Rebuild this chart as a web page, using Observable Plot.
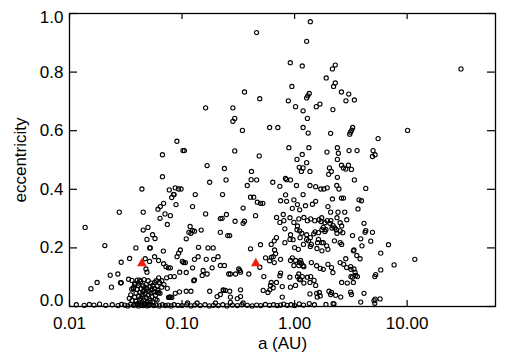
<!DOCTYPE html>
<html><head><meta charset="utf-8">
<script src="https://cdn.jsdelivr.net/npm/d3@7"></script>
<script src="https://cdn.jsdelivr.net/npm/@observablehq/plot@0.6"></script>
<style>
html,body{margin:0;padding:0;background:#fff;}
#chart svg{display:block;}
</style></head><body><div id="chart"></div>
<script>
// [semi-major axis (AU), eccentricity]
const sparseHigh = [[30.1,0.811],[10.1,0.601],[1.38,0.972],[1.28,0.905],[0.916,0.832],[1.17,0.821],[2.30,0.824],[2.17,0.811],[0.49,0.709],[1.91,0.780],[2.30,0.763],[2.22,0.751],[0.946,0.751],[0.459,0.935],[2.61,0.732],[3.03,0.725],[2.86,0.702],[3.40,0.705],[1.35,0.727],[1.31,0.719],[1.28,0.712],[0.88,0.702],[1.02,0.682],[1.19,0.668],[1.68,0.691],[1.56,0.682],[2.19,0.672],[1.30,0.642],[0.60,0.611],[0.71,0.611],[1.19,0.611],[1.32,0.592],[2.09,0.591],[3.28,0.611],[3.22,0.602],[3.14,0.595],[3.09,0.588],[5.52,0.573],[0.485,0.514],[0.89,0.542],[1.34,0.542],[1.17,0.519],[1.05,0.502],[1.28,0.491],[1.10,0.475],[1.19,0.473],[1.15,0.461],[1.37,0.461],[1.94,0.527],[2.40,0.542],[2.45,0.523],[3.05,0.532],[3.59,0.532],[2.40,0.502],[4.98,0.532],[5.19,0.518],[4.92,0.512],[2.61,0.482],[3.01,0.482],[2.72,0.473],[3.20,0.468],[2.04,0.473],[2.12,0.461],[2.01,0.451],[2.40,0.441],[3.40,0.432],[0.83,0.437],[0.85,0.433],[0.92,0.432],[0.64,0.424],[0.46,0.432],[2.85,0.469],[0.162,0.678],[0.283,0.678],[0.294,0.642],[0.283,0.632],[0.359,0.732],[0.344,0.601],[0.090,0.564],[0.102,0.532],[0.105,0.532],[0.067,0.518],[0.294,0.531],[0.167,0.481],[0.238,0.471],[0.414,0.461],[0.067,0.443],[0.246,0.432],[0.176,0.424],[0.411,0.433]];

const innerPlanets = [[0.38,0.413],[0.044,0.401],[0.077,0.398],[0.0277,0.322],[0.0452,0.322],[0.0686,0.352],[0.0641,0.341],[0.0611,0.332],[0.0706,0.316],[0.0637,0.301],[0.0740,0.280],[0.01377,0.270],[0.0452,0.261],[0.0498,0.270],[0.0547,0.245],[0.0488,0.229],[0.0575,0.232],[0.0516,0.200],[0.0522,0.200],[0.0389,0.200],[0.0206,0.208],[0.0682,0.189],[0.0342,0.164],[0.0288,0.151],[0.0471,0.163],[0.0515,0.154],[0.0570,0.170],[0.0619,0.157],[0.0686,0.146],[0.0720,0.136],[0.0755,0.132],[0.0478,0.128],[0.0488,0.117],[0.0230,0.107],[0.0269,0.111],[0.0359,0.089],[0.0284,0.081],[0.0288,0.081],[0.0176,0.082],[0.0155,0.061],[0.0236,0.066],[0.0637,0.045],[0.077,0.032],[0.0335,0.093],[0.0357,0.059],[0.037,0.065],[0.084,0.383],[0.081,0.372],[0.087,0.405],[0.093,0.401],[0.098,0.401],[0.085,0.382],[0.131,0.382],[0.229,0.382],[0.0884,0.348],[0.124,0.341],[0.349,0.336],[0.162,0.316],[0.0787,0.310],[0.248,0.314],[0.227,0.301],[0.219,0.300],[0.296,0.291],[0.349,0.284],[0.359,0.291],[0.118,0.273],[0.124,0.259],[0.129,0.257],[0.120,0.250],[0.115,0.253],[0.148,0.261],[0.219,0.253],[0.255,0.242],[0.265,0.242],[0.109,0.231],[0.140,0.202],[0.170,0.200],[0.189,0.200],[0.0966,0.193],[0.0933,0.182],[0.0903,0.170],[0.1007,0.154],[0.1033,0.150],[0.107,0.150],[0.129,0.161],[0.139,0.170],[0.164,0.161],[0.191,0.161],[0.209,0.170],[0.219,0.140],[0.238,0.140],[0.185,0.132],[0.124,0.132],[0.0787,0.132],[0.154,0.123],[0.167,0.111],[0.151,0.106],[0.0953,0.117],[0.109,0.116],[0.0787,0.102],[0.0853,0.102],[0.129,0.091],[0.127,0.088],[0.260,0.111],[0.269,0.111],[0.299,0.111],[0.319,0.128],[0.326,0.123],[0.331,0.117],[0.392,0.111],[0.234,0.055],[0.243,0.055],[0.265,0.052],[0.331,0.057],[0.205,0.034],[0.269,0.032],[0.331,0.034],[0.176,0.052],[0.219,0.041],[0.0871,0.045],[0.095,0.050],[0.109,0.052],[0.120,0.052],[0.0787,0.032],[0.076,0.031],[0.081,0.031],[0.060,0.048],[0.062,0.048],[0.31,0.027],[0.232,0.057],[0.112,0.012],[0.136,0.012],[0.198,0.012],[0.349,0.012],[0.269,0.014]];

const hotJupiters = [[0.062,0.098],[0.066,0.088],[0.059,0.088],[0.057,0.082],[0.063,0.082],[0.069,0.075],[0.060,0.070],[0.066,0.066],[0.073,0.098],[0.074,0.062],[0.040,0.090],[0.043,0.085],[0.046,0.092],[0.050,0.088],[0.053,0.080],[0.038,0.075],[0.041,0.072],[0.045,0.070],[0.048,0.075],[0.052,0.068],[0.055,0.072],[0.037,0.060],[0.040,0.058],[0.043,0.062],[0.046,0.055],[0.049,0.060],[0.051,0.052],[0.054,0.058],[0.039,0.045],[0.042,0.048],[0.044,0.040],[0.047,0.045],[0.050,0.040],[0.053,0.046],[0.056,0.050],[0.038,0.032],[0.041,0.035],[0.043,0.028],[0.045,0.033],[0.048,0.030],[0.051,0.027],[0.054,0.034],[0.058,0.038],[0.036,0.020],[0.039,0.018],[0.042,0.022],[0.044,0.015],[0.046,0.020],[0.049,0.016],[0.052,0.020],[0.055,0.015],[0.060,0.022],[0.040,0.010],[0.043,0.008],[0.047,0.010],[0.050,0.007],[0.035,0.040],[0.034,0.028],[0.057,0.062],[0.061,0.055],[0.058,0.025],[0.045,0.050],[0.041,0.080],[0.047,0.065],[0.038,0.080],[0.042,0.090]];

const outerPlanets = [[1.04,0.413],[1.19,0.382],[1.37,0.413],[1.54,0.409],[0.406,0.373],[0.434,0.373],[0.466,0.356],[0.498,0.352],[0.522,0.352],[0.450,0.310],[0.751,0.361],[0.832,0.381],[0.849,0.359],[0.986,0.364],[1.06,0.348],[0.955,0.335],[1.11,0.330],[1.25,0.344],[1.44,0.349],[1.54,0.359],[0.692,0.304],[0.793,0.314],[0.803,0.293],[0.740,0.287],[0.986,0.287],[1.09,0.299],[1.21,0.304],[1.30,0.293],[1.39,0.299],[1.51,0.293],[1.65,0.296],[0.406,0.197],[0.498,0.211],[0.664,0.193],[0.678,0.180],[0.646,0.170],[0.621,0.168],[0.552,0.166],[0.491,0.134],[0.533,0.102],[0.955,0.166],[0.92,0.157],[1.02,0.157],[1.13,0.157],[1.15,0.148],[1.09,0.140],[1.21,0.136],[0.986,0.140],[0.751,0.114],[0.908,0.100],[1.09,0.111],[1.17,0.102],[1.30,0.100],[1.39,0.102],[1.13,0.091],[1.21,0.080],[1.49,0.089],[0.611,0.072],[0.646,0.064],[0.603,0.057],[0.777,0.068],[0.526,0.055],[0.777,0.032],[0.92,0.066],[1.02,0.072],[1.54,0.072],[1.37,0.043],[1.59,0.032],[0.82,0.265],[0.92,0.245],[1.05,0.262],[0.82,0.218],[0.97,0.228],[1.12,0.235],[1.28,0.245],[1.38,0.235],[1.48,0.248],[1.52,0.255],[1.60,0.218],[1.75,0.218],[1.20,0.212],[1.38,0.205],[1.58,0.198],[1.75,0.190],[1.71,0.401],[1.82,0.401],[1.95,0.405],[2.37,0.413],[2.48,0.401],[2.61,0.370],[2.72,0.370],[2.17,0.367],[4.29,0.403],[3.74,0.364],[3.93,0.361],[1.98,0.341],[2.09,0.322],[2.43,0.322],[2.79,0.322],[3.66,0.333],[2.91,0.296],[4.14,0.284],[4.29,0.259],[4.92,0.253],[4.23,0.253],[3.27,0.242],[3.87,0.231],[4.75,0.223],[6.83,0.211],[5.83,0.182],[7.66,0.142],[11.7,0.161],[3.37,0.193],[3.57,0.174],[3.82,0.163],[5.83,0.125],[5.26,0.109],[5.16,0.102],[2.85,0.163],[3.15,0.136],[3.37,0.128],[3.49,0.106],[3.27,0.100],[3.62,0.102],[2.94,0.080],[4.14,0.045],[3.15,0.049],[3.20,0.041],[5.08,0.020],[5.75,0.026],[5.16,0.011],[3.87,0.015],[2.02,0.052],[2.09,0.041],[2.32,0.038],[2.57,0.032],[2.24,0.009],[1.72,0.290],[1.80,0.270],[1.95,0.293],[2.10,0.293],[2.20,0.276],[2.28,0.268],[2.35,0.262],[2.15,0.268],[1.90,0.262],[1.75,0.262],[0.74,0.41],[0.91,0.303],[1.06,0.275],[1.74,0.303],[2.38,0.303],[2.54,0.286],[2.62,0.275],[1.86,0.286],[2.06,0.284],[1.11,0.258],[1.16,0.250],[1.63,0.252],[1.86,0.256],[2.38,0.250],[2.54,0.258],[2.68,0.252],[0.69,0.235],[0.66,0.224],[0.62,0.212],[0.91,0.229],[1.0,0.201],[1.08,0.195],[1.28,0.229],[1.33,0.224],[1.41,0.212],[1.63,0.229],[1.80,0.218],[1.93,0.207],[1.98,0.195],[2.26,0.224],[2.54,0.218],[2.62,0.212],[3.33,0.190],[3.97,0.207],[0.60,0.156],[0.66,0.150],[0.75,0.161],[1.11,0.150],[1.19,0.139],[1.41,0.150],[1.57,0.139],[1.69,0.130],[1.80,0.127],[1.98,0.144],[2.13,0.133],[2.19,0.116],[2.54,0.150],[2.73,0.144],[2.90,0.133],[3.17,0.127],[3.45,0.116],[0.74,0.105],[0.62,0.082],[0.69,0.082],[0.58,0.048],[1.06,0.102],[1.10,0.093],[1.37,0.082],[1.57,0.045],[1.66,0.048],[1.69,0.036],[2.13,0.048],[2.62,0.082],[3.17,0.102],[3.33,0.082],[5.2,0.025]];

const circularOrbits = [[0.0115,0.006],[0.0135,0.004],[0.015,0.007],[0.0165,0.005],[0.0185,0.008],[0.021,0.004],[0.024,0.006],[0.027,0.003],[0.029,0.007],[0.031,0.005],[0.033,0.002],[0.035,0.008],[0.037,0.004],[0.039,0.006],[0.041,0.002],[0.043,0.005],[0.045,0.003],[0.047,0.006],[0.049,0.002],[0.051,0.004],[0.053,0.007],[0.056,0.003],[0.059,0.005],[0.063,0.002],[0.067,0.006],[0.071,0.003],[0.075,0.005],[0.080,0.002],[0.085,0.006],[0.092,0.004],[0.10,0.003],[0.11,0.006],[0.12,0.002],[0.13,0.005],[0.145,0.003],[0.16,0.006],[0.175,0.002],[0.19,0.004],[0.21,0.003],[0.23,0.006],[0.25,0.002],[0.28,0.005],[0.31,0.003],[0.34,0.006],[0.38,0.004],[0.42,0.002],[0.46,0.005],[0.50,0.003],[0.55,0.007],[0.60,0.004],[0.65,0.006],[0.70,0.003],[0.75,0.005],[0.80,0.008],[0.86,0.004],[0.93,0.006],[1.0,0.003],[1.1,0.009],[1.2,0.005],[1.35,0.010],[1.5,0.006],[1.9,0.007],[2.2,0.010]];

// highlighted planets (red triangles)
const highlightA = [0.044, 0.452];
const highlightE = [0.147, 0.147];

const xTickValues = [0.01, 0.1, 1, 10];
const xTickLabels = ["0.01", "0.10", "1.00", "10.00"];
const yTickValues = [0, 0.2, 0.4, 0.6, 0.8, 1.0];
const yTickLabels = ["0.0", "0.2", "0.4", "0.6", "0.8", "1.0"];

const planets = [...sparseHigh, ...innerPlanets, ...hotJupiters, ...outerPlanets, ...circularOrbits]
  .map(([a, e]) => ({a, e}));
const highlights = highlightA.map((a, i) => ({a, e: highlightE[i]}));

const W = 512, H = 364, mL = 69, mR = 17, mT = 13, mB = 58;
const innerW = W - mL - mR, innerH = H - mT - mB;
const xTick = 6, yTick = 8;
const font = "'Liberation Sans', Arial, Helvetica, sans-serif";
const yFmt = d => yTickLabels[yTickValues.indexOf(d)];

const chart = Plot.plot({
  width: W, height: H,
  marginLeft: mL, marginRight: mR, marginTop: mT, marginBottom: mB,
  style: {fontFamily: font, fontSize: "17px", color: "#000", background: "#fff"},
  x: {type: "log", domain: [0.01, 61]},
  y: {domain: [0, 1]},
  marks: [
    Plot.dot(planets, {x: "a", y: "e", r: 2.1, stroke: "#000", strokeWidth: 1.1, fill: "none"}),
    Plot.dot(highlights, {x: "a", y: "e", symbol: "triangle", r: 3.6, fill: "#f01e0a", stroke: "none"}),
    Plot.ruleX(xTickValues, {insetTop: innerH - xTick, stroke: "#000", strokeWidth: 1.2}),
    Plot.ruleX(xTickValues, {insetBottom: innerH - xTick, stroke: "#000", strokeWidth: 1.2}),
    Plot.ruleY(yTickValues, {insetRight: innerW - yTick, stroke: "#000", strokeWidth: 1.2}),
    Plot.ruleY(yTickValues, {insetLeft: innerW - yTick, stroke: "#000", strokeWidth: 1.2}),
    Plot.frame({stroke: "#000", strokeWidth: 1.3}),
    Plot.axisX(xTickValues, {
      tickSize: 0, tickPadding: 10, fontSize: 17,
      tickFormat: d => xTickLabels[xTickValues.indexOf(d)],
      label: "a (AU)", labelAnchor: "center", labelOffset: 42, labelArrow: false
    }),
    Plot.axisY(yTickValues.slice(1, -1), {
      tickSize: 0, tickPadding: 6, fontSize: 17, tickFormat: yFmt,
      label: "eccentricity", labelAnchor: "center", labelOffset: 56, labelArrow: false
    }),
    Plot.axisY([yTickValues[0]], {tickSize: 0, tickPadding: 6, fontSize: 17, tickFormat: yFmt, dy: -6, label: null}),
    Plot.axisY([yTickValues[yTickValues.length - 1]], {tickSize: 0, tickPadding: 6, fontSize: 17, tickFormat: yFmt, dy: 4, label: null})
  ]
});
document.getElementById("chart").append(chart);
</script>
</body></html>
